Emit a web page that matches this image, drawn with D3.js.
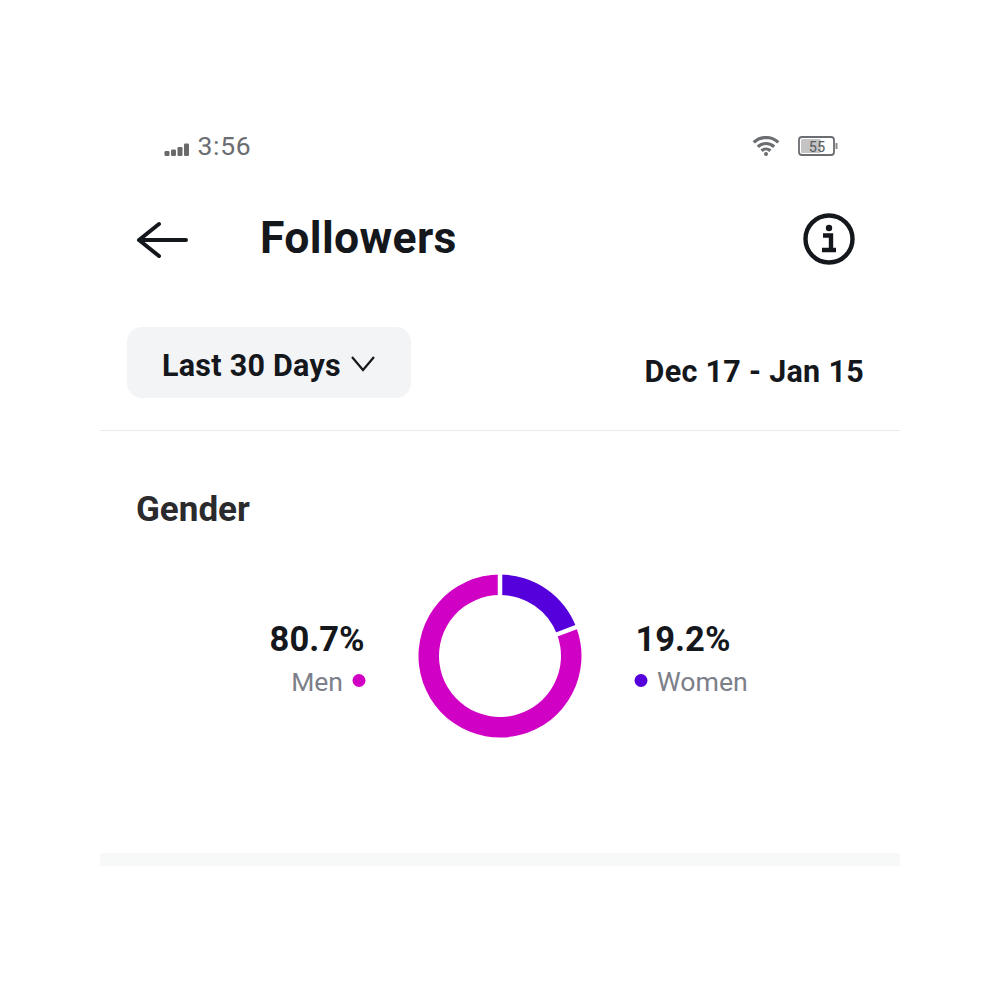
<!DOCTYPE html>
<html><head><meta charset="utf-8">
<script src="https://cdn.jsdelivr.net/npm/d3@7"></script>
<style>html,body{margin:0;padding:0;background:#fff}svg{display:block}text{font-family:Roboto,sans-serif}</style>
</head><body><svg id="c" width="1000" height="1000"></svg>
<script>
const genders = ["Women", "Men"];
const shares = [19.2, 80.7];
const colors = ["#5500dc", "#d000c4"];
const svg = d3.select("#c");
const ink = "#14171c";
function t(x,y,s,size,weight,fill,anchor){
  return svg.append("text").attr("x",x).attr("y",y).text(s).attr("font-size",size)
    .attr("font-weight",weight).attr("fill",fill).attr("text-anchor",anchor||"start");
}
// status bar
const sigH=[5,6.5,9,12.5];
sigH.forEach((h,i)=>svg.append("rect").attr("x",164.5+i*6.5).attr("y",156-h).attr("width",5).attr("height",h).attr("rx",1.2).attr("fill","#6a6a6a"));
t(197.5,155,"3:56",26.5,400,"#6a6d71").attr("letter-spacing",0.7);
// wifi
const wifi=svg.append("g").attr("transform","translate(766,155.5)").attr("fill","none").attr("stroke","#6a6d71").attr("stroke-width",3.2);
[6.5,12,18].forEach(r=>{
  wifi.append("path").attr("d",d3.arc()({innerRadius:r,outerRadius:r,startAngle:-0.75,endAngle:0.75}));
});
wifi.append("circle").attr("cy",-1.5).attr("r",2).attr("fill","#6a6d71").attr("stroke","none");
// battery
svg.append("rect").attr("x",799).attr("y",137).attr("width",35).attr("height",18).attr("rx",3).attr("fill","#fff").attr("stroke","#6a6d71").attr("stroke-width",1.8);
svg.append("rect").attr("x",801).attr("y",139).attr("width",20).attr("height",14).attr("rx",1.5).attr("fill","#c4c4c4");
svg.append("rect").attr("x",835.5).attr("y",143).attr("width",2).attr("height",6).attr("fill","#8a8a8a");
t(817,151.5,"55",14.5,400,"#555a5e","middle");
// header
svg.append("path").attr("d","M186,240H140M159,224L139,240L159,256").attr("fill","none").attr("stroke",ink).attr("stroke-width",4).attr("stroke-linecap","round").attr("stroke-linejoin","round");
t(260,253,"Followers",44.5,700,ink).attr("letter-spacing",0.35);
svg.append("circle").attr("cx",829).attr("cy",239).attr("r",23.5).attr("fill","none").attr("stroke",ink).attr("stroke-width",4.4);
svg.append("circle").attr("cx",829).attr("cy",228).attr("r",3.2).attr("fill",ink);
svg.append("path").attr("d","M823,235.5H831V249.5M822,250H836").attr("fill","none").attr("stroke",ink).attr("stroke-width",4.4);
// filter
svg.append("rect").attr("x",127).attr("y",327).attr("width",284).attr("height",71).attr("rx",15).attr("fill","#f3f4f6");
t(162,375.5,"Last 30 Days",30.5,700,ink).attr("letter-spacing",0.25);
svg.append("path").attr("d","M352,357L363,370L374,357").attr("fill","none").attr("stroke",ink).attr("stroke-width",2.2);
t(864,381.5,"Dec 17 - Jan 15",30.5,700,ink,"end").attr("letter-spacing",0.3);
svg.append("rect").attr("x",100).attr("y",430).attr("width",800).attr("height",1).attr("fill","#e9eaec");
t(136,521,"Gender",35,700,"#2b2b2e");
// donut
const pie=d3.pie().sort(null).value(d=>d)(shares);
const arc=d3.arc().innerRadius(61).outerRadius(81.5);
const gap=svg.append("g").attr("transform","translate(500,656)");
gap.selectAll("path").data(pie).join("path").attr("d",arc).attr("fill",(d,i)=>colors[i]);
gap.selectAll("line").data(pie).join("line")
  .attr("x1",d=>57*Math.sin(d.startAngle)).attr("y1",d=>-57*Math.cos(d.startAngle))
  .attr("x2",d=>85*Math.sin(d.startAngle)).attr("y2",d=>-85*Math.cos(d.startAngle))
  .attr("stroke","#fff").attr("stroke-width",4.5);
// labels
t(364.5,651,shares[1].toFixed(1)+"%",34.5,700,ink,"end");
t(343,691,genders[1],26.5,400,"#7d7f8a","end");
svg.append("circle").attr("cx",359).attr("cy",680.5).attr("r",6.5).attr("fill",colors[1]);
t(635.5,651,shares[0].toFixed(1)+"%",34.5,700,ink);
svg.append("circle").attr("cx",641).attr("cy",680.5).attr("r",6.5).attr("fill",colors[0]);
t(657,691,genders[0],26.7,400,"#7d7f8a");
svg.append("rect").attr("x",100).attr("y",853).attr("width",800).attr("height",13).attr("fill","#f7f8f8");
</script></body></html>
